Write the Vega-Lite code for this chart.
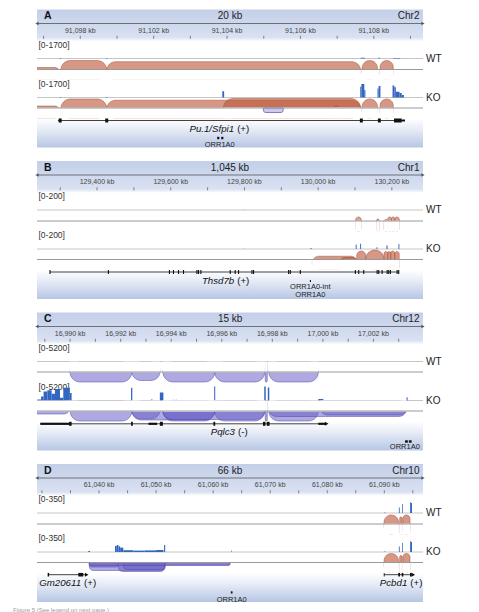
{
"$schema": "https://vega.github.io/schema/vega-lite/v6.json",
"padding": {"left": 13, "top": 9.5, "right": 0, "bottom": 0},
"autosize": {"type": "pad"},
"background": "white",
"config": {"view": {"stroke": null}, "font": "Liberation Sans", "text": {"font": "Liberation Sans"}},
"spacing": 13.5,
"bounds": "flush",
"datasets": {
"aR":[{"start":91098.82,"end":91109.34,"mid":91104.08,"max":1700,"range":"[0-1700]","letter":"A","span":"20 kb","chr":"Chr2"}],
"aK":[{"pos":91099,"label":""},{"pos":91100,"label":"91,098 kb"},{"pos":91101,"label":""},{"pos":91102,"label":"91,102 kb"},{"pos":91103,"label":""},{"pos":91104,"label":"91,104 kb"},{"pos":91105,"label":""},{"pos":91106,"label":"91,106 kb"},{"pos":91107,"label":""},{"pos":91108,"label":"91,108 kb"},{"pos":91109,"label":""}],
"aC":[
{"sample":"WT","start":91099.44,"end":91099.48,"val":50},
{"sample":"WT","start":91100.7,"end":91100.74,"val":50},
{"sample":"WT","start":91107.64,"end":91107.76,"val":90},
{"sample":"WT","start":91108.12,"end":91108.17,"val":90},
{"sample":"WT","start":91108.52,"end":91108.72,"val":70},
{"sample":"KO","start":91099.44,"end":91099.48,"val":60},
{"sample":"KO","start":91100.7,"end":91100.74,"val":60},
{"sample":"KO","start":91103.87,"end":91103.92,"val":750},
{"sample":"KO","start":91107.63,"end":91107.66,"val":1300},
{"sample":"KO","start":91107.66,"end":91107.74,"val":1650},
{"sample":"KO","start":91107.74,"end":91107.77,"val":900},
{"sample":"KO","start":91108.1,"end":91108.13,"val":1100},
{"sample":"KO","start":91108.13,"end":91108.18,"val":1400},
{"sample":"KO","start":91108.51,"end":91108.56,"val":1450},
{"sample":"KO","start":91108.56,"end":91108.6,"val":1250},
{"sample":"KO","start":91108.6,"end":91108.7,"val":700},
{"sample":"KO","start":91108.7,"end":91108.76,"val":550},
{"sample":"KO","start":91108.76,"end":91108.82,"val":300}],
"aJ":[
{"sample":"WT","strand":"+","start":91098.3,"end":91099.46,"val":20},
{"sample":"WT","strand":"+","start":91099.47,"end":91100.72,"val":90},
{"sample":"WT","strand":"+","start":91100.72,"end":91107.64,"val":78},
{"sample":"WT","strand":"+","start":91107.68,"end":91108.1,"val":90},
{"sample":"WT","strand":"+","start":91108.17,"end":91108.53,"val":90},
{"sample":"KO","strand":"+","start":91098.3,"end":91099.46,"val":20},
{"sample":"KO","strand":"+","start":91099.47,"end":91100.72,"val":90},
{"sample":"KO","strand":"+","start":91100.72,"end":91107.64,"val":78},
{"sample":"KO","strand":"+","start":91103.9,"end":91107.64,"val":95},
{"sample":"KO","strand":"+","start":91106.94,"end":91107.02,"val":25},
{"sample":"KO","strand":"+","start":91107.68,"end":91108.1,"val":90},
{"sample":"KO","strand":"+","start":91108.17,"end":91108.53,"val":90},
{"sample":"KO","strand":"-","start":91104.99,"end":91105.53,"val":45}],
"aG":[{"start":91099.43,"end":91108.85}],
"aE":[{"start":91099.41,"end":91099.49,"kind":"cds"},{"start":91100.68,"end":91100.76,"kind":"cds"},{"start":91107.62,"end":91107.7,"kind":"cds"},{"start":91108.11,"end":91108.19,"kind":"cds"},{"start":91108.55,"end":91108.76,"kind":"cds"},{"start":91108.76,"end":91108.85,"kind":"utr"}],
"aT":[{"pos":91099.43,"dir":"left"}],
"aL":[{"pos":91104.22,"name":"Pu.1/Sfpi1","strand":"(+)"}],
"aPm":[{"start":91103.73,"end":91103.79},{"start":91103.84,"end":91103.9}],
"aPl":[{"pos":91103.8,"name":"ORR1A0","row":0}],

"bR":[{"start":129237,"end":130284.6,"mid":129760.8,"max":200,"range":"[0-200]","letter":"B","span":"1,045 kb","chr":"Chr1"}],
"bK":[{"pos":129300,"label":""},{"pos":129400,"label":"129,400 kb"},{"pos":129500,"label":""},{"pos":129600,"label":"129,600 kb"},{"pos":129700,"label":""},{"pos":129800,"label":"129,800 kb"},{"pos":129900,"label":""},{"pos":130000,"label":"130,000 kb"},{"pos":130100,"label":""},{"pos":130200,"label":"130,200 kb"}],
"bC":[{"sample":"WT","start":129798,"end":129801,"val":5},{"sample":"KO","start":129798,"end":129801,"val":5},{"sample":"KO","start":129979,"end":129982,"val":15},{"sample":"KO","start":130102,"end":130104.5,"val":65},{"sample":"KO","start":130114,"end":130116.5,"val":75},{"sample":"KO","start":130158.5,"end":130161,"val":25},{"sample":"KO","start":130185.5,"end":130188.5,"val":50},{"sample":"KO","start":130218,"end":130220.5,"val":70}],
"bJ":[
{"sample":"WT","strand":"+","start":130102,"end":130117,"val":40},
{"sample":"WT","strand":"+","start":130159,"end":130165,"val":20},
{"sample":"WT","strand":"+","start":130179,"end":130189,"val":15},
{"sample":"WT","strand":"+","start":130189,"end":130199,"val":40},
{"sample":"WT","strand":"+","start":130199,"end":130208,"val":40},
{"sample":"WT","strand":"+","start":130208,"end":130220,"val":40},
{"sample":"KO","strand":"+","start":129984,"end":130106.5,"val":33},
{"sample":"KO","strand":"+","start":130056.8,"end":130109,"val":20},
{"sample":"KO","strand":"+","start":130104.7,"end":130129,"val":85},
{"sample":"KO","strand":"+","start":130129,"end":130179,"val":95},
{"sample":"KO","strand":"+","start":130179,"end":130189,"val":80},
{"sample":"KO","strand":"+","start":130189,"end":130197,"val":80},
{"sample":"KO","strand":"+","start":130197,"end":130208,"val":85},
{"sample":"KO","strand":"+","start":130208,"end":130220,"val":80}],
"bG":[{"start":129272.3,"end":130218.8}],
"bE":[
{"start":129270.8,"end":129273.8},{"start":129429.3,"end":129432.3},{"start":129595,"end":129598},{"start":129605.9,"end":129608.9},{"start":129619.5,"end":129622.5},{"start":129633.1,"end":129636.1},{"start":129669.5,"end":129672.5},{"start":129673.8,"end":129676.8},{"start":129680.3,"end":129683.3},{"start":129760,"end":129763},{"start":129773.5,"end":129776.5},{"start":129782.5,"end":129785.5},{"start":129818.9,"end":129821.9},{"start":129823.3,"end":129826.3},{"start":129918.4,"end":129921.4},{"start":129923,"end":129926},{"start":129950.2,"end":129953.2},{"start":130099.6,"end":130102.6},{"start":130108.6,"end":130111.6},{"start":130122.2,"end":130125.2},{"start":130158.6,"end":130161.6},{"start":130163,"end":130166},{"start":130172.2,"end":130175.2},{"start":130185.8,"end":130188.8},{"start":130190.1,"end":130193.1},{"start":130194.7,"end":130197.7},{"start":130212.9,"end":130215.9},{"start":130217.3,"end":130220.3}],
"bL":[{"pos":129775,"name":"Thsd7b","strand":"(+)"}],
"bPm":[{"start":129977.5,"end":129980.5}],
"bPl":[{"pos":129978.8,"name":"ORR1A0-int","row":0},{"pos":129978.8,"name":"ORR1A0","row":1}],

"cR":[{"start":16988.69,"end":17003.96,"mid":16996.33,"max":5200,"range":"[0-5200]","letter":"C","span":"15 kb","chr":"Chr12"}],
"cK":[{"pos":16989,"label":""},{"pos":16990,"label":"16,990 kb"},{"pos":16991,"label":""},{"pos":16992,"label":"16,992 kb"},{"pos":16993,"label":""},{"pos":16994,"label":"16,994 kb"},{"pos":16995,"label":""},{"pos":16996,"label":"16,996 kb"},{"pos":16997,"label":""},{"pos":16998,"label":"16,998 kb"},{"pos":16999,"label":""},{"pos":17000,"label":"17,000 kb"},{"pos":17001,"label":""},{"pos":17002,"label":"17,002 kb"},{"pos":17003,"label":""}],
"cC":[
{"sample":"KO","start":16988.7,"end":16988.85,"val":400},
{"sample":"KO","start":16988.85,"end":16988.95,"val":1500},
{"sample":"KO","start":16988.95,"end":16989.1,"val":3300},
{"sample":"KO","start":16989.1,"end":16989.27,"val":3800},
{"sample":"KO","start":16989.27,"end":16989.4,"val":2500},
{"sample":"KO","start":16989.4,"end":16989.6,"val":4300},
{"sample":"KO","start":16989.6,"end":16989.73,"val":1000},
{"sample":"KO","start":16989.73,"end":16989.99,"val":4700},
{"sample":"KO","start":16989.99,"end":16990.06,"val":2800},
{"sample":"KO","start":16992.41,"end":16992.46,"val":4700},
{"sample":"KO","start":16993.22,"end":16993.25,"val":600},
{"sample":"KO","start":16993.55,"end":16993.69,"val":3000},
{"sample":"KO","start":16994.08,"end":16994.12,"val":300},
{"sample":"KO","start":16994.18,"end":16994.22,"val":300},
{"sample":"KO","start":16995.7,"end":16995.74,"val":5200},
{"sample":"KO","start":16997.68,"end":16997.74,"val":5200},
{"sample":"KO","start":16997.82,"end":16997.88,"val":4800},
{"sample":"KO","start":16999.82,"end":17000.02,"val":600},
{"sample":"KO","start":17003.31,"end":17003.35,"val":1200}],
"cJ":[
{"sample":"WT","strand":"-","start":16989.995,"end":16992.44,"val":100},
{"sample":"WT","strand":"-","start":16992.44,"end":16993.56,"val":85},
{"sample":"WT","strand":"-","start":16993.67,"end":16995.72,"val":100},
{"sample":"WT","strand":"-","start":16995.72,"end":16997.7,"val":100},
{"sample":"WT","strand":"-","start":16997.72,"end":16997.8,"val":100},
{"sample":"WT","strand":"-","start":16997.86,"end":16999.82,"val":100},
{"sample":"KO","strand":"-","start":16988.3,"end":16990.0,"val":30},
{"sample":"KO","strand":"-","start":16990.0,"end":16992.44,"val":100},
{"sample":"KO","strand":"-","start":16992.44,"end":16993.56,"val":80},
{"sample":"KO","strand":"-","start":16992.44,"end":16995.72,"val":90},
{"sample":"KO","strand":"-","start":16993.67,"end":16995.72,"val":100},
{"sample":"KO","strand":"-","start":16993.67,"end":16997.7,"val":85},
{"sample":"KO","strand":"-","start":16995.72,"end":16997.7,"val":100},
{"sample":"KO","strand":"-","start":16997.72,"end":16997.8,"val":100},
{"sample":"KO","strand":"-","start":16997.86,"end":16999.82,"val":100},
{"sample":"KO","strand":"-","start":16997.86,"end":17003.31,"val":55},
{"sample":"KO","strand":"-","start":16999.9,"end":17003.31,"val":40}],
"cG":[{"start":16988.82,"end":17000.15}],
"cE":[{"start":16988.82,"end":16990.0,"kind":"utr"},{"start":16989.96,"end":16990.06,"kind":"cds"},{"start":16992.41,"end":16992.48,"kind":"cds"},{"start":16993.1,"end":16993.44,"kind":"utr"},{"start":16993.55,"end":16993.67,"kind":"cds"},{"start":16995.67,"end":16995.74,"kind":"cds"},{"start":16997.63,"end":16997.73,"kind":"cds"},{"start":16997.78,"end":16997.89,"kind":"cds"},{"start":16999.82,"end":17000.12,"kind":"utr"}],
"cT":[{"pos":17000.15,"dir":"right"}],
"cL":[{"pos":16996.56,"name":"Pqlc3","strand":"(-)"}],
"cPm":[{"start":17003.25,"end":17003.36},{"start":17003.4,"end":17003.51}],
"cPl":[{"pos":17003.24,"name":"ORR1A0","row":0}],

"dR":[{"start":61029.13,"end":61096.78,"mid":61062.95,"max":350,"range":"[0-350]","letter":"D","span":"66 kb","chr":"Chr10"}],
"dK":[{"pos":61030,"label":""},{"pos":61035,"label":""},{"pos":61040,"label":"61,040 kb"},{"pos":61045,"label":""},{"pos":61050,"label":"61,050 kb"},{"pos":61055,"label":""},{"pos":61060,"label":"61,060 kb"},{"pos":61065,"label":""},{"pos":61070,"label":"61,070 kb"},{"pos":61075,"label":""},{"pos":61080,"label":"61,080 kb"},{"pos":61085,"label":""},{"pos":61090,"label":"61,090 kb"},{"pos":61095,"label":""}],
"dC":[
{"sample":"WT","start":61090.0,"end":61090.2,"val":10},
{"sample":"WT","start":61092.55,"end":61092.7,"val":140},
{"sample":"WT","start":61093.12,"end":61093.25,"val":225},
{"sample":"WT","start":61094.5,"end":61094.65,"val":270},
{"sample":"WT","start":61094.65,"end":61094.85,"val":250},
{"sample":"KO","start":61090.0,"end":61090.2,"val":10},
{"sample":"KO","start":61092.55,"end":61092.7,"val":140},
{"sample":"KO","start":61093.12,"end":61093.25,"val":225},
{"sample":"KO","start":61094.5,"end":61094.65,"val":270},
{"sample":"KO","start":61094.65,"end":61094.85,"val":250},
{"sample":"KO","start":61038.12,"end":61038.42,"val":25},
{"sample":"KO","start":61042.8,"end":61043.1,"val":150},
{"sample":"KO","start":61043.1,"end":61043.4,"val":175},
{"sample":"KO","start":61043.4,"end":61043.7,"val":140},
{"sample":"KO","start":61043.7,"end":61044.26,"val":110},
{"sample":"KO","start":61044.26,"end":61046.0,"val":45},
{"sample":"KO","start":61046.0,"end":61048.0,"val":35},
{"sample":"KO","start":61048.0,"end":61050.0,"val":40},
{"sample":"KO","start":61050.0,"end":61051.3,"val":50},
{"sample":"KO","start":61051.4,"end":61051.6,"val":175},
{"sample":"KO","start":61063.2,"end":61063.3,"val":40}],
"dJ":[
{"sample":"WT","strand":"+","start":61089.95,"end":61092.5,"val":90},
{"sample":"WT","strand":"+","start":61092.7,"end":61093.12,"val":70},
{"sample":"WT","strand":"+","start":61093.25,"end":61094.5,"val":90},
{"sample":"KO","strand":"+","start":61089.95,"end":61092.5,"val":90},
{"sample":"KO","strand":"+","start":61092.7,"end":61093.12,"val":70},
{"sample":"KO","strand":"+","start":61093.25,"end":61094.5,"val":90},
{"sample":"KO","strand":"-","start":61038.3,"end":61051.56,"val":80},
{"sample":"KO","strand":"-","start":61038.3,"end":61043.38,"val":45},
{"sample":"KO","strand":"-","start":61043.38,"end":61051.56,"val":90},
{"sample":"KO","strand":"-","start":61044.26,"end":61051.56,"val":70},
{"sample":"KO","strand":"-","start":61051.56,"end":61062.95,"val":25},
{"sample":"KO","strand":"-","start":61038.3,"end":61062.95,"val":30}],
"dG":[{"start":61031.11,"end":61037.84},{"start":61089.95,"end":61095.08}],
"dE":[{"start":61031.0,"end":61031.25},{"start":61036.37,"end":61037.24},{"start":61089.9,"end":61090.05},{"start":61092.45,"end":61092.75},{"start":61093.05,"end":61093.33},{"start":61094.5,"end":61094.8}],
"dT":[{"pos":61037.84,"dir":"right"},{"pos":61095.08,"dir":"right"}],
"dL":[{"pos":61037.02,"name":"Gm20611","strand":"(+)"},{"pos":61094.2,"name":"Pcbd1","strand":"(+)"}],
"dPm":[{"start":61063.1,"end":61063.4}],
"dPl":[{"pos":61063.25,"name":"ORR1A0","row":0}]
},
"vconcat": [
{
"width": 386, "height": 138,
"resolve": {"scale": {"y": "independent", "shape": "independent"}},
"layer": [
{"data":{"name":"aR"},"mark":{"type":"rect","fill":{"gradient":"linear","x1":0,"y1":0,"x2":0,"y2":1,"stops":[{"offset":0,"color":"#c3cfe9"},{"offset":0.2,"color":"#d9e1f1"},{"offset":0.215,"color":"#e8edf7"},{"offset":0.23,"color":"#ffffff"},{"offset":0.79,"color":"#ffffff"},{"offset":0.88,"color":"#e3e9f5"},{"offset":1,"color":"#b7c6e4"}]}},
 "encoding":{"x":{"field":"start","type":"quantitative","scale":{"domain":[91098.82,91109.34],"nice":false,"zero":false},"axis":null},"x2":{"field":"end"}}},
{"data":{"name":"aR"},"mark":{"type":"text","align":"left","baseline":"middle","dx":7,"fontSize":10.5,"fontWeight":"bold","fill":"#111"},"encoding":{"x":{"field":"start","type":"quantitative"},"y":{"datum":6.5,"type":"quantitative","scale":{"domain":[0,138],"range":[0,138]},"axis":null},"text":{"field":"letter"}}},
{"data":{"name":"aR"},"mark":{"type":"text","align":"center","baseline":"middle","fontSize":10,"fill":"#222"},"encoding":{"x":{"field":"mid","type":"quantitative"},"y":{"datum":6.5,"type":"quantitative","scale":{"domain":[0,138],"range":[0,138]},"axis":null},"text":{"field":"span"}}},
{"data":{"name":"aR"},"mark":{"type":"text","align":"right","baseline":"middle","dx":-3.5,"fontSize":10,"fill":"#222"},"encoding":{"x":{"field":"end","type":"quantitative"},"y":{"datum":6.5,"type":"quantitative","scale":{"domain":[0,138],"range":[0,138]},"axis":null},"text":{"field":"chr"}}},
{"data":{"name":"aR"},"mark":{"type":"rule","stroke":"#555","strokeWidth":0.8},"encoding":{"x":{"field":"start","type":"quantitative"},"x2":{"field":"end"},"y":{"datum":14,"type":"quantitative","scale":{"domain":[0,138],"range":[0,138]},"axis":null}}},
{"data":{"name":"aR"},"transform":[{"fold":["start","end"],"as":["side","pos"]}],"mark":{"type":"point","filled":true,"size":14,"opacity":1,"fill":"#555","strokeWidth":0},"encoding":{"x":{"field":"pos","type":"quantitative"},"y":{"datum":14,"type":"quantitative","scale":{"domain":[0,138],"range":[0,138]},"axis":null},"shape":{"field":"side","type":"nominal","scale":{"domain":["start","end"],"range":["triangle-left","triangle-right"]},"legend":null}}},
{"data":{"name":"aK"},"mark":{"type":"rule","stroke":"#666","strokeWidth":0.8},"encoding":{"x":{"field":"pos","type":"quantitative"},"y":{"datum":26.3,"type":"quantitative","scale":{"domain":[0,138],"range":[0,138]},"axis":null},"y2":{"datum":29.3}}},
{"data":{"name":"aK"},"mark":{"type":"text","align":"center","baseline":"middle","fontSize":7,"fill":"#444"},"encoding":{"x":{"field":"pos","type":"quantitative"},"y":{"datum":21,"type":"quantitative","scale":{"domain":[0,138],"range":[0,138]},"axis":null},"text":{"field":"label"}}},

{"data":{"name":"aR"},"mark":{"type":"text","align":"left","baseline":"middle","dx":1.5,"fontSize":8.5,"fill":"#333"},"encoding":{"x":{"field":"start","type":"quantitative"},"y":{"field":"max","type":"quantitative","scale":{"domain":[0,1700],"range":[49,35]},"axis":null},"text":{"field":"range"}}},
{"data":{"name":"aR"},"mark":{"type":"rule","stroke":"#b8b8b8","strokeWidth":0.8},"encoding":{"x":{"field":"start","type":"quantitative"},"x2":{"field":"end"},"y":{"datum":0,"type":"quantitative","scale":{"domain":[0,1700],"range":[49,35]},"axis":null}}},
{"data":{"name":"aC"},"transform":[{"filter":"datum.sample === 'WT'"}],"mark":{"type":"rect","fill":"#3466c0","clip":true},"encoding":{"x":{"field":"start","type":"quantitative"},"x2":{"field":"end"},"y":{"field":"val","type":"quantitative","scale":{"domain":[0,1700],"range":[49,35]},"axis":null},"y2":{"datum":0}}},
{"data":{"name":"aR"},"mark":{"type":"text","align":"left","baseline":"middle","dx":3,"fontSize":10,"fill":"#222"},"encoding":{"x":{"field":"end","type":"quantitative"},"y":{"datum":0,"type":"quantitative","scale":{"domain":[0,1700],"range":[49,35]},"axis":null},"text":{"value":"WT"}}},
{"data":{"name":"aJ"},"transform":[{"filter":"datum.sample === 'WT' && datum.strand === '+'"}],"mark":{"type":"rect","clip":true,"fill":"#bd593a","fillOpacity":0.62,"stroke":"#a3452f","strokeWidth":0.6,"strokeOpacity":0.8,"cornerRadius":10},"encoding":{"x":{"field":"start","type":"quantitative"},"x2":{"field":"end"},"y":{"field":"val","type":"quantitative","scale":{"domain":[0,100],"range":[60,50]},"axis":null},"y2":{"datum":-100}}},
{"data":{"name":"aJ"},"transform":[{"filter":"datum.sample === 'WT' && datum.strand === '+'"}],"mark":{"type":"rect","clip":true,"fill":"#ffffff","stroke":"#ffffff","strokeWidth":0.8},"encoding":{"x":{"field":"start","type":"quantitative"},"x2":{"field":"end"},"y":{"datum":0,"type":"quantitative","scale":{"domain":[0,100],"range":[60,50]},"axis":null},"y2":{"datum":-100}}},
{"data":{"name":"aR"},"mark":{"type":"rule","stroke":"#999","strokeWidth":1.1},"encoding":{"x":{"field":"start","type":"quantitative"},"x2":{"field":"end"},"y":{"datum":0,"type":"quantitative","scale":{"domain":[0,100],"range":[60,50]},"axis":null}}},

{"data":{"name":"aR"},"mark":{"type":"text","align":"left","baseline":"middle","dx":1.5,"fontSize":8.5,"fill":"#333"},"encoding":{"x":{"field":"start","type":"quantitative"},"y":{"field":"max","type":"quantitative","scale":{"domain":[0,1700],"range":[88,74]},"axis":null},"text":{"field":"range"}}},
{"data":{"name":"aR"},"mark":{"type":"rule","stroke":"#b8b8b8","strokeWidth":0.8},"encoding":{"x":{"field":"start","type":"quantitative"},"x2":{"field":"end"},"y":{"datum":0,"type":"quantitative","scale":{"domain":[0,1700],"range":[88,74]},"axis":null}}},
{"data":{"name":"aC"},"transform":[{"filter":"datum.sample === 'KO'"}],"mark":{"type":"rect","fill":"#3466c0","clip":true},"encoding":{"x":{"field":"start","type":"quantitative"},"x2":{"field":"end"},"y":{"field":"val","type":"quantitative","scale":{"domain":[0,1700],"range":[88,74]},"axis":null},"y2":{"datum":0}}},
{"data":{"name":"aR"},"mark":{"type":"text","align":"left","baseline":"middle","dx":3,"fontSize":10,"fill":"#222"},"encoding":{"x":{"field":"end","type":"quantitative"},"y":{"datum":0,"type":"quantitative","scale":{"domain":[0,1700],"range":[88,74]},"axis":null},"text":{"value":"KO"}}},
{"data":{"name":"aJ"},"transform":[{"filter":"datum.sample === 'KO' && datum.strand === '+'"}],"mark":{"type":"rect","clip":true,"fill":"#bd593a","fillOpacity":0.62,"stroke":"#a3452f","strokeWidth":0.6,"strokeOpacity":0.8,"cornerRadius":10},"encoding":{"x":{"field":"start","type":"quantitative"},"x2":{"field":"end"},"y":{"field":"val","type":"quantitative","scale":{"domain":[0,100],"range":[98.5,88.5]},"axis":null},"y2":{"datum":-100}}},
{"data":{"name":"aJ"},"transform":[{"filter":"datum.sample === 'KO' && datum.strand === '+'"}],"mark":{"type":"rect","clip":true,"fill":"#ffffff","stroke":"#ffffff","strokeWidth":0.8},"encoding":{"x":{"field":"start","type":"quantitative"},"x2":{"field":"end"},"y":{"datum":0,"type":"quantitative","scale":{"domain":[0,100],"range":[98.5,88.5]},"axis":null},"y2":{"datum":-100}}},
{"data":{"name":"aJ"},"transform":[{"filter":"datum.sample === 'KO' && datum.strand === '-'"}],"mark":{"type":"rect","clip":true,"fill":"#6c63c8","fillOpacity":0.35,"stroke":"#4a40a8","strokeWidth":0.7,"strokeOpacity":0.9,"cornerRadiusBottomLeft":7,"cornerRadiusBottomRight":7},"encoding":{"x":{"field":"start","type":"quantitative"},"x2":{"field":"end"},"y":{"field":"val","type":"quantitative","scale":{"domain":[0,100],"range":[98.5,108.5]},"axis":null},"y2":{"datum":0}}},
{"data":{"name":"aR"},"mark":{"type":"rule","stroke":"#999","strokeWidth":1.1},"encoding":{"x":{"field":"start","type":"quantitative"},"x2":{"field":"end"},"y":{"datum":0,"type":"quantitative","scale":{"domain":[0,100],"range":[98.5,88.5]},"axis":null}}},

{"data":{"name":"aG"},"mark":{"type":"rule","stroke":"#111","strokeWidth":0.8},"encoding":{"x":{"field":"start","type":"quantitative"},"x2":{"field":"end"},"y":{"datum":111,"type":"quantitative","scale":{"domain":[0,138],"range":[0,138]},"axis":null}}},
{"data":{"name":"aE"},"transform":[{"filter":"datum.kind === 'cds'"}],"mark":{"type":"rect","fill":"#111"},"encoding":{"x":{"field":"start","type":"quantitative"},"x2":{"field":"end"},"y":{"datum":109,"type":"quantitative","scale":{"domain":[0,138],"range":[0,138]},"axis":null},"y2":{"datum":113}}},
{"data":{"name":"aE"},"transform":[{"filter":"datum.kind === 'utr'"}],"mark":{"type":"rect","fill":"#111"},"encoding":{"x":{"field":"start","type":"quantitative"},"x2":{"field":"end"},"y":{"datum":110,"type":"quantitative","scale":{"domain":[0,138],"range":[0,138]},"axis":null},"y2":{"datum":112}}},
{"data":{"name":"aT"},"mark":{"type":"point","filled":true,"size":16,"opacity":1,"fill":"#111","strokeWidth":0},"encoding":{"x":{"field":"pos","type":"quantitative"},"y":{"datum":111,"type":"quantitative","scale":{"domain":[0,138],"range":[0,138]},"axis":null},"shape":{"field":"dir","type":"nominal","scale":{"domain":["left","right"],"range":["triangle-left","triangle-right"]},"legend":null}}},
{"data":{"name":"aL"},"mark":{"type":"text","align":"right","baseline":"middle","dx":-1,"fontSize":9.7,"fontStyle":"italic","fill":"#111"},"encoding":{"x":{"field":"pos","type":"quantitative"},"y":{"datum":119.5,"type":"quantitative","scale":{"domain":[0,138],"range":[0,138]},"axis":null},"text":{"field":"name"}}},
{"data":{"name":"aL"},"mark":{"type":"text","align":"left","baseline":"middle","dx":2,"fontSize":9.7,"fill":"#111"},"encoding":{"x":{"field":"pos","type":"quantitative"},"y":{"datum":119.5,"type":"quantitative","scale":{"domain":[0,138],"range":[0,138]},"axis":null},"text":{"field":"strand"}}},
{"data":{"name":"aPm"},"mark":{"type":"rect","fill":"#111"},"encoding":{"x":{"field":"start","type":"quantitative"},"x2":{"field":"end"},"y":{"datum":127.3,"type":"quantitative","scale":{"domain":[0,138],"range":[0,138]},"axis":null},"y2":{"datum":129.7}}},
{"data":{"name":"aPl"},"mark":{"type":"text","align":"center","baseline":"middle","fontSize":7.5,"fill":"#222"},"encoding":{"x":{"field":"pos","type":"quantitative"},"y":{"field":"row","type":"quantitative","scale":{"domain":[0,1],"range":[135,143]},"axis":null},"text":{"field":"name"}}}
]
},
{
"width": 386, "height": 138,
"resolve": {"scale": {"y": "independent", "shape": "independent"}},
"layer": [
{"data":{"name":"bR"},"mark":{"type":"rect","fill":{"gradient":"linear","x1":0,"y1":0,"x2":0,"y2":1,"stops":[{"offset":0,"color":"#c3cfe9"},{"offset":0.2,"color":"#d9e1f1"},{"offset":0.215,"color":"#e8edf7"},{"offset":0.23,"color":"#ffffff"},{"offset":0.79,"color":"#ffffff"},{"offset":0.88,"color":"#e3e9f5"},{"offset":1,"color":"#b7c6e4"}]}},
 "encoding":{"x":{"field":"start","type":"quantitative","scale":{"domain":[129237,130284.6],"nice":false,"zero":false},"axis":null},"x2":{"field":"end"}}},
{"data":{"name":"bR"},"mark":{"type":"text","align":"left","baseline":"middle","dx":7,"fontSize":10.5,"fontWeight":"bold","fill":"#111"},"encoding":{"x":{"field":"start","type":"quantitative"},"y":{"datum":6.5,"type":"quantitative","scale":{"domain":[0,138],"range":[0,138]},"axis":null},"text":{"field":"letter"}}},
{"data":{"name":"bR"},"mark":{"type":"text","align":"center","baseline":"middle","fontSize":10,"fill":"#222"},"encoding":{"x":{"field":"mid","type":"quantitative"},"y":{"datum":6.5,"type":"quantitative","scale":{"domain":[0,138],"range":[0,138]},"axis":null},"text":{"field":"span"}}},
{"data":{"name":"bR"},"mark":{"type":"text","align":"right","baseline":"middle","dx":-3.5,"fontSize":10,"fill":"#222"},"encoding":{"x":{"field":"end","type":"quantitative"},"y":{"datum":6.5,"type":"quantitative","scale":{"domain":[0,138],"range":[0,138]},"axis":null},"text":{"field":"chr"}}},
{"data":{"name":"bR"},"mark":{"type":"rule","stroke":"#555","strokeWidth":0.8},"encoding":{"x":{"field":"start","type":"quantitative"},"x2":{"field":"end"},"y":{"datum":14,"type":"quantitative","scale":{"domain":[0,138],"range":[0,138]},"axis":null}}},
{"data":{"name":"bR"},"transform":[{"fold":["start","end"],"as":["side","pos"]}],"mark":{"type":"point","filled":true,"size":14,"opacity":1,"fill":"#555","strokeWidth":0},"encoding":{"x":{"field":"pos","type":"quantitative"},"y":{"datum":14,"type":"quantitative","scale":{"domain":[0,138],"range":[0,138]},"axis":null},"shape":{"field":"side","type":"nominal","scale":{"domain":["start","end"],"range":["triangle-left","triangle-right"]},"legend":null}}},
{"data":{"name":"bK"},"mark":{"type":"rule","stroke":"#666","strokeWidth":0.8},"encoding":{"x":{"field":"pos","type":"quantitative"},"y":{"datum":26.3,"type":"quantitative","scale":{"domain":[0,138],"range":[0,138]},"axis":null},"y2":{"datum":29.3}}},
{"data":{"name":"bK"},"mark":{"type":"text","align":"center","baseline":"middle","fontSize":7,"fill":"#444"},"encoding":{"x":{"field":"pos","type":"quantitative"},"y":{"datum":21,"type":"quantitative","scale":{"domain":[0,138],"range":[0,138]},"axis":null},"text":{"field":"label"}}},

{"data":{"name":"bR"},"mark":{"type":"text","align":"left","baseline":"middle","dx":1.5,"fontSize":8.5,"fill":"#333"},"encoding":{"x":{"field":"start","type":"quantitative"},"y":{"field":"max","type":"quantitative","scale":{"domain":[0,200],"range":[49,35]},"axis":null},"text":{"field":"range"}}},
{"data":{"name":"bR"},"mark":{"type":"rule","stroke":"#b8b8b8","strokeWidth":0.8},"encoding":{"x":{"field":"start","type":"quantitative"},"x2":{"field":"end"},"y":{"datum":0,"type":"quantitative","scale":{"domain":[0,200],"range":[49,35]},"axis":null}}},
{"data":{"name":"bC"},"transform":[{"filter":"datum.sample === 'WT'"}],"mark":{"type":"rect","fill":"#3466c0","clip":true},"encoding":{"x":{"field":"start","type":"quantitative"},"x2":{"field":"end"},"y":{"field":"val","type":"quantitative","scale":{"domain":[0,200],"range":[49,35]},"axis":null},"y2":{"datum":0}}},
{"data":{"name":"bR"},"mark":{"type":"text","align":"left","baseline":"middle","dx":3,"fontSize":10,"fill":"#222"},"encoding":{"x":{"field":"end","type":"quantitative"},"y":{"datum":0,"type":"quantitative","scale":{"domain":[0,200],"range":[49,35]},"axis":null},"text":{"value":"WT"}}},
{"data":{"name":"bJ"},"transform":[{"filter":"datum.sample === 'WT' && datum.strand === '+'"}],"mark":{"type":"rect","clip":true,"fill":"#bd593a","fillOpacity":0.55,"stroke":"#a3452f","strokeWidth":0.6,"strokeOpacity":0.9,"cornerRadius":10},"encoding":{"x":{"field":"start","type":"quantitative"},"x2":{"field":"end"},"y":{"field":"val","type":"quantitative","scale":{"domain":[0,100],"range":[60,50]},"axis":null},"y2":{"datum":-100}}},
{"data":{"name":"bJ"},"transform":[{"filter":"datum.sample === 'WT' && datum.strand === '+'"}],"mark":{"type":"rect","clip":true,"fill":"#ffffff","stroke":"#ffffff","strokeWidth":0.8},"encoding":{"x":{"field":"start","type":"quantitative"},"x2":{"field":"end"},"y":{"datum":0,"type":"quantitative","scale":{"domain":[0,100],"range":[60,50]},"axis":null},"y2":{"datum":-100}}},
{"data":{"name":"bR"},"mark":{"type":"rule","stroke":"#999","strokeWidth":1.1},"encoding":{"x":{"field":"start","type":"quantitative"},"x2":{"field":"end"},"y":{"datum":0,"type":"quantitative","scale":{"domain":[0,100],"range":[60,50]},"axis":null}}},

{"data":{"name":"bR"},"mark":{"type":"text","align":"left","baseline":"middle","dx":1.5,"fontSize":8.5,"fill":"#333"},"encoding":{"x":{"field":"start","type":"quantitative"},"y":{"field":"max","type":"quantitative","scale":{"domain":[0,200],"range":[88,74]},"axis":null},"text":{"field":"range"}}},
{"data":{"name":"bR"},"mark":{"type":"rule","stroke":"#b8b8b8","strokeWidth":0.8},"encoding":{"x":{"field":"start","type":"quantitative"},"x2":{"field":"end"},"y":{"datum":0,"type":"quantitative","scale":{"domain":[0,200],"range":[88,74]},"axis":null}}},
{"data":{"name":"bC"},"transform":[{"filter":"datum.sample === 'KO'"}],"mark":{"type":"rect","fill":"#3466c0","clip":true},"encoding":{"x":{"field":"start","type":"quantitative"},"x2":{"field":"end"},"y":{"field":"val","type":"quantitative","scale":{"domain":[0,200],"range":[88,74]},"axis":null},"y2":{"datum":0}}},
{"data":{"name":"bR"},"mark":{"type":"text","align":"left","baseline":"middle","dx":3,"fontSize":10,"fill":"#222"},"encoding":{"x":{"field":"end","type":"quantitative"},"y":{"datum":0,"type":"quantitative","scale":{"domain":[0,200],"range":[88,74]},"axis":null},"text":{"value":"KO"}}},
{"data":{"name":"bJ"},"transform":[{"filter":"datum.sample === 'KO' && datum.strand === '+'"}],"mark":{"type":"rect","clip":true,"fill":"#bd593a","fillOpacity":0.62,"stroke":"#a3452f","strokeWidth":0.6,"strokeOpacity":0.8,"cornerRadius":10},"encoding":{"x":{"field":"start","type":"quantitative"},"x2":{"field":"end"},"y":{"field":"val","type":"quantitative","scale":{"domain":[0,100],"range":[98.5,88.5]},"axis":null},"y2":{"datum":-100}}},
{"data":{"name":"bJ"},"transform":[{"filter":"datum.sample === 'KO' && datum.strand === '+'"}],"mark":{"type":"rect","clip":true,"fill":"#ffffff","stroke":"#ffffff","strokeWidth":0.8},"encoding":{"x":{"field":"start","type":"quantitative"},"x2":{"field":"end"},"y":{"datum":0,"type":"quantitative","scale":{"domain":[0,100],"range":[98.5,88.5]},"axis":null},"y2":{"datum":-100}}},
{"data":{"name":"bR"},"mark":{"type":"rule","stroke":"#999","strokeWidth":1.1},"encoding":{"x":{"field":"start","type":"quantitative"},"x2":{"field":"end"},"y":{"datum":0,"type":"quantitative","scale":{"domain":[0,100],"range":[98.5,88.5]},"axis":null}}},

{"data":{"name":"bG"},"mark":{"type":"rule","stroke":"#111","strokeWidth":0.8},"encoding":{"x":{"field":"start","type":"quantitative"},"x2":{"field":"end"},"y":{"datum":111,"type":"quantitative","scale":{"domain":[0,138],"range":[0,138]},"axis":null}}},
{"data":{"name":"bE"},"mark":{"type":"rect","fill":"#111"},"encoding":{"x":{"field":"start","type":"quantitative"},"x2":{"field":"end"},"y":{"datum":109,"type":"quantitative","scale":{"domain":[0,138],"range":[0,138]},"axis":null},"y2":{"datum":113}}},
{"data":{"name":"bL"},"mark":{"type":"text","align":"right","baseline":"middle","dx":-1,"fontSize":9.7,"fontStyle":"italic","fill":"#111"},"encoding":{"x":{"field":"pos","type":"quantitative"},"y":{"datum":120,"type":"quantitative","scale":{"domain":[0,138],"range":[0,138]},"axis":null},"text":{"field":"name"}}},
{"data":{"name":"bL"},"mark":{"type":"text","align":"left","baseline":"middle","dx":2,"fontSize":9.7,"fill":"#111"},"encoding":{"x":{"field":"pos","type":"quantitative"},"y":{"datum":120,"type":"quantitative","scale":{"domain":[0,138],"range":[0,138]},"axis":null},"text":{"field":"strand"}}},
{"data":{"name":"bPm"},"mark":{"type":"rect","fill":"#111"},"encoding":{"x":{"field":"start","type":"quantitative"},"x2":{"field":"end"},"y":{"datum":119,"type":"quantitative","scale":{"domain":[0,138],"range":[0,138]},"axis":null},"y2":{"datum":121}}},
{"data":{"name":"bPl"},"mark":{"type":"text","align":"center","baseline":"middle","fontSize":7.5,"fill":"#222"},"encoding":{"x":{"field":"pos","type":"quantitative"},"y":{"field":"row","type":"quantitative","scale":{"domain":[0,1],"range":[126,134.3]},"axis":null},"text":{"field":"name"}}}
]
},
{
"width": 386, "height": 138,
"resolve": {"scale": {"y": "independent", "shape": "independent"}},
"layer": [
{"data":{"name":"cR"},"mark":{"type":"rect","fill":{"gradient":"linear","x1":0,"y1":0,"x2":0,"y2":1,"stops":[{"offset":0,"color":"#c3cfe9"},{"offset":0.2,"color":"#d9e1f1"},{"offset":0.215,"color":"#e8edf7"},{"offset":0.23,"color":"#ffffff"},{"offset":0.79,"color":"#ffffff"},{"offset":0.88,"color":"#e3e9f5"},{"offset":1,"color":"#b7c6e4"}]}},
 "encoding":{"x":{"field":"start","type":"quantitative","scale":{"domain":[16988.69,17003.96],"nice":false,"zero":false},"axis":null},"x2":{"field":"end"}}},
{"data":{"name":"cR"},"mark":{"type":"text","align":"left","baseline":"middle","dx":7,"fontSize":10.5,"fontWeight":"bold","fill":"#111"},"encoding":{"x":{"field":"start","type":"quantitative"},"y":{"datum":6.5,"type":"quantitative","scale":{"domain":[0,138],"range":[0,138]},"axis":null},"text":{"field":"letter"}}},
{"data":{"name":"cR"},"mark":{"type":"text","align":"center","baseline":"middle","fontSize":10,"fill":"#222"},"encoding":{"x":{"field":"mid","type":"quantitative"},"y":{"datum":6.5,"type":"quantitative","scale":{"domain":[0,138],"range":[0,138]},"axis":null},"text":{"field":"span"}}},
{"data":{"name":"cR"},"mark":{"type":"text","align":"right","baseline":"middle","dx":-3.5,"fontSize":10,"fill":"#222"},"encoding":{"x":{"field":"end","type":"quantitative"},"y":{"datum":6.5,"type":"quantitative","scale":{"domain":[0,138],"range":[0,138]},"axis":null},"text":{"field":"chr"}}},
{"data":{"name":"cR"},"mark":{"type":"rule","stroke":"#555","strokeWidth":0.8},"encoding":{"x":{"field":"start","type":"quantitative"},"x2":{"field":"end"},"y":{"datum":14,"type":"quantitative","scale":{"domain":[0,138],"range":[0,138]},"axis":null}}},
{"data":{"name":"cR"},"transform":[{"fold":["start","end"],"as":["side","pos"]}],"mark":{"type":"point","filled":true,"size":14,"opacity":1,"fill":"#555","strokeWidth":0},"encoding":{"x":{"field":"pos","type":"quantitative"},"y":{"datum":14,"type":"quantitative","scale":{"domain":[0,138],"range":[0,138]},"axis":null},"shape":{"field":"side","type":"nominal","scale":{"domain":["start","end"],"range":["triangle-left","triangle-right"]},"legend":null}}},
{"data":{"name":"cK"},"mark":{"type":"rule","stroke":"#666","strokeWidth":0.8},"encoding":{"x":{"field":"pos","type":"quantitative"},"y":{"datum":26.3,"type":"quantitative","scale":{"domain":[0,138],"range":[0,138]},"axis":null},"y2":{"datum":29.3}}},
{"data":{"name":"cK"},"mark":{"type":"text","align":"center","baseline":"middle","fontSize":7,"fill":"#444"},"encoding":{"x":{"field":"pos","type":"quantitative"},"y":{"datum":21,"type":"quantitative","scale":{"domain":[0,138],"range":[0,138]},"axis":null},"text":{"field":"label"}}},

{"data":{"name":"cR"},"mark":{"type":"text","align":"left","baseline":"middle","dx":1.5,"fontSize":8.5,"fill":"#333"},"encoding":{"x":{"field":"start","type":"quantitative"},"y":{"field":"max","type":"quantitative","scale":{"domain":[0,5200],"range":[49,35]},"axis":null},"text":{"field":"range"}}},
{"data":{"name":"cR"},"mark":{"type":"rule","stroke":"#b8b8b8","strokeWidth":0.8},"encoding":{"x":{"field":"start","type":"quantitative"},"x2":{"field":"end"},"y":{"datum":0,"type":"quantitative","scale":{"domain":[0,5200],"range":[49,35]},"axis":null}}},
{"data":{"name":"cR"},"mark":{"type":"text","align":"left","baseline":"middle","dx":3,"fontSize":10,"fill":"#222"},"encoding":{"x":{"field":"end","type":"quantitative"},"y":{"datum":0,"type":"quantitative","scale":{"domain":[0,5200],"range":[49,35]},"axis":null},"text":{"value":"WT"}}},
{"data":{"name":"cJ"},"transform":[{"filter":"datum.sample === 'WT' && datum.strand === '-'"}],"mark":{"type":"rect","clip":true,"fill":"#6c63c8","fillOpacity":0.55,"stroke":"#4a40a8","strokeWidth":0.6,"strokeOpacity":0.8,"cornerRadius":10},"encoding":{"x":{"field":"start","type":"quantitative"},"x2":{"field":"end"},"y":{"field":"val","type":"quantitative","scale":{"domain":[0,100],"range":[59.5,69.5]},"axis":null},"y2":{"datum":-100}}},
{"data":{"name":"cJ"},"transform":[{"filter":"datum.sample === 'WT' && datum.strand === '-'"}],"mark":{"type":"rect","clip":true,"fill":"#ffffff","stroke":"#ffffff","strokeWidth":0.8},"encoding":{"x":{"field":"start","type":"quantitative"},"x2":{"field":"end"},"y":{"datum":0,"type":"quantitative","scale":{"domain":[0,100],"range":[59.5,69.5]},"axis":null},"y2":{"datum":-100}}},
{"data":{"name":"cR"},"mark":{"type":"rule","stroke":"#999","strokeWidth":1.1},"encoding":{"x":{"field":"start","type":"quantitative"},"x2":{"field":"end"},"y":{"datum":0,"type":"quantitative","scale":{"domain":[0,100],"range":[59.5,69.5]},"axis":null}}},

{"data":{"name":"cR"},"mark":{"type":"text","align":"left","baseline":"middle","dx":1.5,"fontSize":8.5,"fill":"#333"},"encoding":{"x":{"field":"start","type":"quantitative"},"y":{"field":"max","type":"quantitative","scale":{"domain":[0,5200],"range":[88,74]},"axis":null},"text":{"field":"range"}}},
{"data":{"name":"cR"},"mark":{"type":"rule","stroke":"#b8b8b8","strokeWidth":0.8},"encoding":{"x":{"field":"start","type":"quantitative"},"x2":{"field":"end"},"y":{"datum":0,"type":"quantitative","scale":{"domain":[0,5200],"range":[88,74]},"axis":null}}},
{"data":{"name":"cC"},"transform":[{"filter":"datum.sample === 'KO'"}],"mark":{"type":"rect","fill":"#3466c0","clip":true},"encoding":{"x":{"field":"start","type":"quantitative"},"x2":{"field":"end"},"y":{"field":"val","type":"quantitative","scale":{"domain":[0,5200],"range":[88,74]},"axis":null},"y2":{"datum":0}}},
{"data":{"name":"cR"},"mark":{"type":"text","align":"left","baseline":"middle","dx":3,"fontSize":10,"fill":"#222"},"encoding":{"x":{"field":"end","type":"quantitative"},"y":{"datum":0,"type":"quantitative","scale":{"domain":[0,5200],"range":[88,74]},"axis":null},"text":{"value":"KO"}}},
{"data":{"name":"cJ"},"transform":[{"filter":"datum.sample === 'KO' && datum.strand === '-'"}],"mark":{"type":"rect","clip":true,"fill":"#6c63c8","fillOpacity":0.55,"stroke":"#4a40a8","strokeWidth":0.6,"strokeOpacity":0.8,"cornerRadius":10},"encoding":{"x":{"field":"start","type":"quantitative"},"x2":{"field":"end"},"y":{"field":"val","type":"quantitative","scale":{"domain":[0,100],"range":[98.5,108.5]},"axis":null},"y2":{"datum":-100}}},
{"data":{"name":"cJ"},"transform":[{"filter":"datum.sample === 'KO' && datum.strand === '-'"}],"mark":{"type":"rect","clip":true,"fill":"#ffffff","stroke":"#ffffff","strokeWidth":0.8},"encoding":{"x":{"field":"start","type":"quantitative"},"x2":{"field":"end"},"y":{"datum":0,"type":"quantitative","scale":{"domain":[0,100],"range":[98.5,108.5]},"axis":null},"y2":{"datum":-100}}},
{"data":{"name":"cR"},"mark":{"type":"rule","stroke":"#999","strokeWidth":1.1},"encoding":{"x":{"field":"start","type":"quantitative"},"x2":{"field":"end"},"y":{"datum":0,"type":"quantitative","scale":{"domain":[0,100],"range":[98.5,108.5]},"axis":null}}},

{"data":{"name":"cG"},"mark":{"type":"rule","stroke":"#111","strokeWidth":0.8},"encoding":{"x":{"field":"start","type":"quantitative"},"x2":{"field":"end"},"y":{"datum":111.3,"type":"quantitative","scale":{"domain":[0,138],"range":[0,138]},"axis":null}}},
{"data":{"name":"cE"},"transform":[{"filter":"datum.kind === 'cds'"}],"mark":{"type":"rect","fill":"#111"},"encoding":{"x":{"field":"start","type":"quantitative"},"x2":{"field":"end"},"y":{"datum":109.3,"type":"quantitative","scale":{"domain":[0,138],"range":[0,138]},"axis":null},"y2":{"datum":113.3}}},
{"data":{"name":"cE"},"transform":[{"filter":"datum.kind === 'utr'"}],"mark":{"type":"rect","fill":"#111"},"encoding":{"x":{"field":"start","type":"quantitative"},"x2":{"field":"end"},"y":{"datum":110.2,"type":"quantitative","scale":{"domain":[0,138],"range":[0,138]},"axis":null},"y2":{"datum":112.4}}},
{"data":{"name":"cT"},"mark":{"type":"point","filled":true,"size":16,"opacity":1,"fill":"#111","strokeWidth":0},"encoding":{"x":{"field":"pos","type":"quantitative"},"y":{"datum":111.3,"type":"quantitative","scale":{"domain":[0,138],"range":[0,138]},"axis":null},"shape":{"field":"dir","type":"nominal","scale":{"domain":["left","right"],"range":["triangle-left","triangle-right"]},"legend":null}}},
{"data":{"name":"cL"},"mark":{"type":"text","align":"right","baseline":"middle","dx":-1,"fontSize":9.7,"fontStyle":"italic","fill":"#111"},"encoding":{"x":{"field":"pos","type":"quantitative"},"y":{"datum":119.3,"type":"quantitative","scale":{"domain":[0,138],"range":[0,138]},"axis":null},"text":{"field":"name"}}},
{"data":{"name":"cL"},"mark":{"type":"text","align":"left","baseline":"middle","dx":2,"fontSize":9.7,"fill":"#111"},"encoding":{"x":{"field":"pos","type":"quantitative"},"y":{"datum":119.3,"type":"quantitative","scale":{"domain":[0,138],"range":[0,138]},"axis":null},"text":{"field":"strand"}}},
{"data":{"name":"cPm"},"mark":{"type":"rect","fill":"#111"},"encoding":{"x":{"field":"start","type":"quantitative"},"x2":{"field":"end"},"y":{"datum":127.8,"type":"quantitative","scale":{"domain":[0,138],"range":[0,138]},"axis":null},"y2":{"datum":130.2}}},
{"data":{"name":"cPl"},"mark":{"type":"text","align":"center","baseline":"middle","fontSize":7.5,"fill":"#222"},"encoding":{"x":{"field":"pos","type":"quantitative"},"y":{"field":"row","type":"quantitative","scale":{"domain":[0,1],"range":[134.5,142]},"axis":null},"text":{"field":"name"}}}
]
},
{
"width": 386, "height": 138,
"resolve": {"scale": {"y": "independent", "shape": "independent"}},
"layer": [
{"data":{"name":"dR"},"mark":{"type":"rect","fill":{"gradient":"linear","x1":0,"y1":0,"x2":0,"y2":1,"stops":[{"offset":0,"color":"#c3cfe9"},{"offset":0.2,"color":"#d9e1f1"},{"offset":0.215,"color":"#e8edf7"},{"offset":0.23,"color":"#ffffff"},{"offset":0.79,"color":"#ffffff"},{"offset":0.88,"color":"#e3e9f5"},{"offset":1,"color":"#b7c6e4"}]}},
 "encoding":{"x":{"field":"start","type":"quantitative","scale":{"domain":[61029.13,61096.78],"nice":false,"zero":false},"axis":null},"x2":{"field":"end"}}},
{"data":{"name":"dR"},"mark":{"type":"text","align":"left","baseline":"middle","dx":7,"fontSize":10.5,"fontWeight":"bold","fill":"#111"},"encoding":{"x":{"field":"start","type":"quantitative"},"y":{"datum":6.5,"type":"quantitative","scale":{"domain":[0,138],"range":[0,138]},"axis":null},"text":{"field":"letter"}}},
{"data":{"name":"dR"},"mark":{"type":"text","align":"center","baseline":"middle","fontSize":10,"fill":"#222"},"encoding":{"x":{"field":"mid","type":"quantitative"},"y":{"datum":6.5,"type":"quantitative","scale":{"domain":[0,138],"range":[0,138]},"axis":null},"text":{"field":"span"}}},
{"data":{"name":"dR"},"mark":{"type":"text","align":"right","baseline":"middle","dx":-3.5,"fontSize":10,"fill":"#222"},"encoding":{"x":{"field":"end","type":"quantitative"},"y":{"datum":6.5,"type":"quantitative","scale":{"domain":[0,138],"range":[0,138]},"axis":null},"text":{"field":"chr"}}},
{"data":{"name":"dR"},"mark":{"type":"rule","stroke":"#555","strokeWidth":0.8},"encoding":{"x":{"field":"start","type":"quantitative"},"x2":{"field":"end"},"y":{"datum":14,"type":"quantitative","scale":{"domain":[0,138],"range":[0,138]},"axis":null}}},
{"data":{"name":"dR"},"transform":[{"fold":["start","end"],"as":["side","pos"]}],"mark":{"type":"point","filled":true,"size":14,"opacity":1,"fill":"#555","strokeWidth":0},"encoding":{"x":{"field":"pos","type":"quantitative"},"y":{"datum":14,"type":"quantitative","scale":{"domain":[0,138],"range":[0,138]},"axis":null},"shape":{"field":"side","type":"nominal","scale":{"domain":["start","end"],"range":["triangle-left","triangle-right"]},"legend":null}}},
{"data":{"name":"dK"},"mark":{"type":"rule","stroke":"#666","strokeWidth":0.8},"encoding":{"x":{"field":"pos","type":"quantitative"},"y":{"datum":26.3,"type":"quantitative","scale":{"domain":[0,138],"range":[0,138]},"axis":null},"y2":{"datum":29.3}}},
{"data":{"name":"dK"},"mark":{"type":"text","align":"center","baseline":"middle","fontSize":7,"fill":"#444"},"encoding":{"x":{"field":"pos","type":"quantitative"},"y":{"datum":21,"type":"quantitative","scale":{"domain":[0,138],"range":[0,138]},"axis":null},"text":{"field":"label"}}},

{"data":{"name":"dR"},"mark":{"type":"text","align":"left","baseline":"middle","dx":1.5,"fontSize":8.5,"fill":"#333"},"encoding":{"x":{"field":"start","type":"quantitative"},"y":{"field":"max","type":"quantitative","scale":{"domain":[0,350],"range":[49,35]},"axis":null},"text":{"field":"range"}}},
{"data":{"name":"dR"},"mark":{"type":"rule","stroke":"#b8b8b8","strokeWidth":0.8},"encoding":{"x":{"field":"start","type":"quantitative"},"x2":{"field":"end"},"y":{"datum":0,"type":"quantitative","scale":{"domain":[0,350],"range":[49,35]},"axis":null}}},
{"data":{"name":"dC"},"transform":[{"filter":"datum.sample === 'WT'"}],"mark":{"type":"rect","fill":"#3466c0","clip":true},"encoding":{"x":{"field":"start","type":"quantitative"},"x2":{"field":"end"},"y":{"field":"val","type":"quantitative","scale":{"domain":[0,350],"range":[49,35]},"axis":null},"y2":{"datum":0}}},
{"data":{"name":"dR"},"mark":{"type":"text","align":"left","baseline":"middle","dx":3,"fontSize":10,"fill":"#222"},"encoding":{"x":{"field":"end","type":"quantitative"},"y":{"datum":0,"type":"quantitative","scale":{"domain":[0,350],"range":[49,35]},"axis":null},"text":{"value":"WT"}}},
{"data":{"name":"dJ"},"transform":[{"filter":"datum.sample === 'WT' && datum.strand === '+'"}],"mark":{"type":"rect","clip":true,"fill":"#bd593a","fillOpacity":0.62,"stroke":"#a3452f","strokeWidth":0.6,"strokeOpacity":0.8,"cornerRadius":10},"encoding":{"x":{"field":"start","type":"quantitative"},"x2":{"field":"end"},"y":{"field":"val","type":"quantitative","scale":{"domain":[0,100],"range":[60,50]},"axis":null},"y2":{"datum":-100}}},
{"data":{"name":"dJ"},"transform":[{"filter":"datum.sample === 'WT' && datum.strand === '+'"}],"mark":{"type":"rect","clip":true,"fill":"#ffffff","stroke":"#ffffff","strokeWidth":0.8},"encoding":{"x":{"field":"start","type":"quantitative"},"x2":{"field":"end"},"y":{"datum":0,"type":"quantitative","scale":{"domain":[0,100],"range":[60,50]},"axis":null},"y2":{"datum":-100}}},
{"data":{"name":"dR"},"mark":{"type":"rule","stroke":"#999","strokeWidth":1.1},"encoding":{"x":{"field":"start","type":"quantitative"},"x2":{"field":"end"},"y":{"datum":0,"type":"quantitative","scale":{"domain":[0,100],"range":[60,50]},"axis":null}}},

{"data":{"name":"dR"},"mark":{"type":"text","align":"left","baseline":"middle","dx":1.5,"fontSize":8.5,"fill":"#333"},"encoding":{"x":{"field":"start","type":"quantitative"},"y":{"field":"max","type":"quantitative","scale":{"domain":[0,350],"range":[88,74]},"axis":null},"text":{"field":"range"}}},
{"data":{"name":"dR"},"mark":{"type":"rule","stroke":"#b8b8b8","strokeWidth":0.8},"encoding":{"x":{"field":"start","type":"quantitative"},"x2":{"field":"end"},"y":{"datum":0,"type":"quantitative","scale":{"domain":[0,350],"range":[88,74]},"axis":null}}},
{"data":{"name":"dC"},"transform":[{"filter":"datum.sample === 'KO'"}],"mark":{"type":"rect","fill":"#3466c0","clip":true},"encoding":{"x":{"field":"start","type":"quantitative"},"x2":{"field":"end"},"y":{"field":"val","type":"quantitative","scale":{"domain":[0,350],"range":[88,74]},"axis":null},"y2":{"datum":0}}},
{"data":{"name":"dR"},"mark":{"type":"text","align":"left","baseline":"middle","dx":3,"fontSize":10,"fill":"#222"},"encoding":{"x":{"field":"end","type":"quantitative"},"y":{"datum":0,"type":"quantitative","scale":{"domain":[0,350],"range":[88,74]},"axis":null},"text":{"value":"KO"}}},
{"data":{"name":"dJ"},"transform":[{"filter":"datum.sample === 'KO' && datum.strand === '+'"}],"mark":{"type":"rect","clip":true,"fill":"#bd593a","fillOpacity":0.62,"stroke":"#a3452f","strokeWidth":0.6,"strokeOpacity":0.8,"cornerRadius":10},"encoding":{"x":{"field":"start","type":"quantitative"},"x2":{"field":"end"},"y":{"field":"val","type":"quantitative","scale":{"domain":[0,100],"range":[98.5,88.5]},"axis":null},"y2":{"datum":-100}}},
{"data":{"name":"dJ"},"transform":[{"filter":"datum.sample === 'KO' && datum.strand === '+'"}],"mark":{"type":"rect","clip":true,"fill":"#ffffff","stroke":"#ffffff","strokeWidth":0.8},"encoding":{"x":{"field":"start","type":"quantitative"},"x2":{"field":"end"},"y":{"datum":0,"type":"quantitative","scale":{"domain":[0,100],"range":[98.5,88.5]},"axis":null},"y2":{"datum":-100}}},
{"data":{"name":"dJ"},"transform":[{"filter":"datum.sample === 'KO' && datum.strand === '-'"}],"mark":{"type":"rect","clip":true,"fill":"#6c63c8","fillOpacity":0.55,"stroke":"#4a40a8","strokeWidth":0.6,"strokeOpacity":0.8,"cornerRadiusBottomLeft":7,"cornerRadiusBottomRight":7},"encoding":{"x":{"field":"start","type":"quantitative"},"x2":{"field":"end"},"y":{"field":"val","type":"quantitative","scale":{"domain":[0,100],"range":[98.5,108.5]},"axis":null},"y2":{"datum":0}}},
{"data":{"name":"dR"},"mark":{"type":"rule","stroke":"#999","strokeWidth":1.1},"encoding":{"x":{"field":"start","type":"quantitative"},"x2":{"field":"end"},"y":{"datum":0,"type":"quantitative","scale":{"domain":[0,100],"range":[98.5,88.5]},"axis":null}}},

{"data":{"name":"dG"},"mark":{"type":"rule","stroke":"#111","strokeWidth":0.8},"encoding":{"x":{"field":"start","type":"quantitative"},"x2":{"field":"end"},"y":{"datum":110.7,"type":"quantitative","scale":{"domain":[0,138],"range":[0,138]},"axis":null}}},
{"data":{"name":"dE"},"mark":{"type":"rect","fill":"#111"},"encoding":{"x":{"field":"start","type":"quantitative"},"x2":{"field":"end"},"y":{"datum":108.9,"type":"quantitative","scale":{"domain":[0,138],"range":[0,138]},"axis":null},"y2":{"datum":112.5}}},
{"data":{"name":"dT"},"mark":{"type":"point","filled":true,"size":16,"opacity":1,"fill":"#111","strokeWidth":0},"encoding":{"x":{"field":"pos","type":"quantitative"},"y":{"datum":110.7,"type":"quantitative","scale":{"domain":[0,138],"range":[0,138]},"axis":null},"shape":{"field":"dir","type":"nominal","scale":{"domain":["left","right"],"range":["triangle-left","triangle-right"]},"legend":null}}},
{"data":{"name":"dL"},"mark":{"type":"text","align":"right","baseline":"middle","dx":-1,"fontSize":9.7,"fontStyle":"italic","fill":"#111"},"encoding":{"x":{"field":"pos","type":"quantitative"},"y":{"datum":119.4,"type":"quantitative","scale":{"domain":[0,138],"range":[0,138]},"axis":null},"text":{"field":"name"}}},
{"data":{"name":"dL"},"mark":{"type":"text","align":"left","baseline":"middle","dx":2,"fontSize":9.7,"fill":"#111"},"encoding":{"x":{"field":"pos","type":"quantitative"},"y":{"datum":119.4,"type":"quantitative","scale":{"domain":[0,138],"range":[0,138]},"axis":null},"text":{"field":"strand"}}},
{"data":{"name":"dPm"},"mark":{"type":"rect","fill":"#111"},"encoding":{"x":{"field":"start","type":"quantitative"},"x2":{"field":"end"},"y":{"datum":127.3,"type":"quantitative","scale":{"domain":[0,138],"range":[0,138]},"axis":null},"y2":{"datum":129.5}}},
{"data":{"name":"dPl"},"mark":{"type":"text","align":"center","baseline":"middle","fontSize":7.5,"fill":"#222"},"encoding":{"x":{"field":"pos","type":"quantitative"},"y":{"field":"row","type":"quantitative","scale":{"domain":[0,1],"range":[135.7,143]},"axis":null},"text":{"field":"name"}}},
{"data":{"name":"dR"},"mark":{"type":"text","align":"left","baseline":"middle","dx":-24,"fontSize":6,"fill":"#9a9a9a"},"encoding":{"x":{"field":"start","type":"quantitative"},"y":{"datum":145.7,"type":"quantitative","scale":{"domain":[0,138],"range":[0,138]},"axis":null},"text":{"value":"Figure 5 (See legend on next page.)"}}}
]
}
]
}
